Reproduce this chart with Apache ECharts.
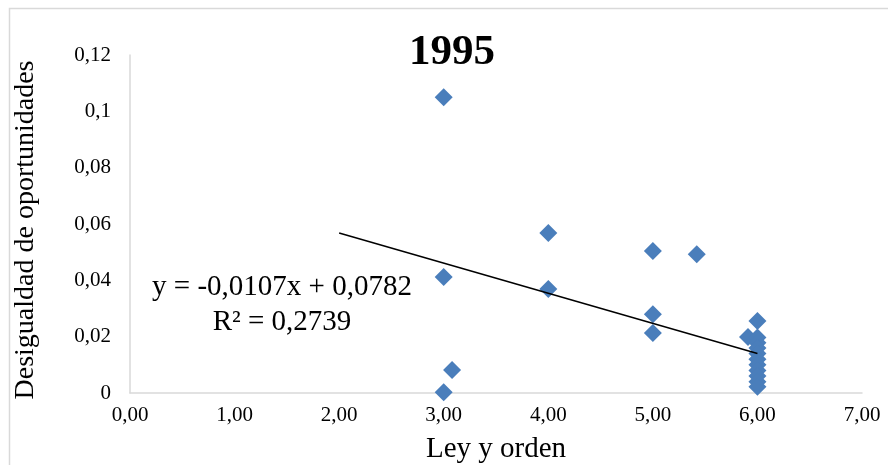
<!DOCTYPE html>
<html>
<head>
<meta charset="utf-8">
<script src="https://cdn.jsdelivr.net/npm/echarts@6/dist/echarts.min.js"></script>
<style>html,body{margin:0;padding:0;background:#fff}#c{width:888px;height:465px}</style>
</head>
<body>
<div id="c"></div>
<script>
const chartTitle = "1995";
const xAxisTitle = "Ley y orden";
const yAxisTitle = "Desigualdad de oportunidades";
const equationText = "y = -0,0107x + 0,0782";
const r2Text = "R² = 0,2739";
const xValues = [3, 4, 5, 5.42, 3, 4, 5, 5, 3.08, 3, 6, 5.91, 6, 6, 6, 6, 6, 6, 6, 6, 6, 6];
const yValues = [0.105, 0.0568, 0.0504, 0.0493, 0.0412, 0.0369, 0.028, 0.0213, 0.0082, 0.0003, 0.0256, 0.0199, 0.0197, 0.0178, 0.0160, 0.0140, 0.0120, 0.0100, 0.0080, 0.0060, 0.0040, 0.0022];
const trendX = [2, 6];
const trendY = [0.0568, 0.0140];

const FONT = "'Liberation Serif', 'Times New Roman', serif";
const chart = echarts.init(document.getElementById('c'), null, {renderer: 'canvas'});
const points = xValues.map((x, i) => [x, yValues[i]]);
const trend = trendX.map((x, i) => [x, trendY[i]]);

chart.setOption({
  animation: false,
  backgroundColor: '#fff',
  title: {
    text: chartTitle, left: 447, top: 26, textAlign: 'center',
    textStyle: {fontFamily: FONT, fontSize: 43, fontWeight: 'bold', color: '#000'}
  },
  grid: {left: 130, right: 26, top: 55, bottom: 72},
  xAxis: {
    type: 'value', min: 0, max: 7, interval: 1,
    axisLine: {show: true, lineStyle: {color: '#d9d9d9', width: 1.5}},
    axisTick: {show: false}, splitLine: {show: false},
    axisLabel: {
      margin: 12, color: '#000', fontFamily: FONT, fontSize: 21,
      formatter: v => v.toFixed(2).replace('.', ',')
    }
  },
  yAxis: {
    type: 'value', min: 0, max: 0.12, interval: 0.02,
    axisLine: {show: true, lineStyle: {color: '#d9d9d9', width: 1.5}},
    axisTick: {show: false}, splitLine: {show: false},
    axisLabel: {
      margin: 19, color: '#000', fontFamily: FONT, fontSize: 21,
      formatter: v => String(parseFloat(v.toFixed(2))).replace('.', ',')
    }
  },
  graphic: [
    {type: 'rect', left: 7, top: 6, z: -1, silent: true,
     shape: {width: 900, height: 500}, style: {fill: 'none', stroke: '#d9d9d9', lineWidth: 1.5}},
    {type: 'text', x: 26, y: 230, rotation: Math.PI / 2, z: 10,
     style: {text: yAxisTitle, fill: '#000', font: '28px ' + FONT, textAlign: 'center', textVerticalAlign: 'middle'}},
    {type: 'text', x: 496, y: 449, z: 10,
     style: {text: xAxisTitle, fill: '#000', font: '29px ' + FONT, textAlign: 'center', textVerticalAlign: 'middle'}},
    {type: 'text', x: 282, y: 287, z: 10,
     style: {text: equationText, fill: '#000', font: '29px ' + FONT, textAlign: 'center', textVerticalAlign: 'middle'}},
    {type: 'text', x: 282, y: 322, z: 10,
     style: {text: r2Text, fill: '#000', font: '29px ' + FONT, textAlign: 'center', textVerticalAlign: 'middle'}}
  ],
  series: [
    {type: 'scatter', data: points, symbol: 'diamond', symbolSize: 18,
     itemStyle: {color: '#4a7ebb', opacity: 1}, z: 2},
    {type: 'line', data: trend, symbol: 'none', z: 3,
     lineStyle: {color: '#000', width: 1.5}}
  ]
});
</script>
</body>
</html>
